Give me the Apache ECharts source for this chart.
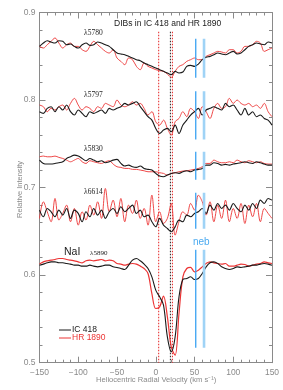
<!DOCTYPE html>
<html><head><meta charset="utf-8">
<script src="https://cdn.jsdelivr.net/npm/echarts@6/dist/echarts.min.js"></script>
<style>html,body{margin:0;padding:0;background:#fff}#c{width:283px;height:390px}</style>
</head><body><div id="c"></div>
<script>
const velocity = [-150,-145,-140,-135,-130,-125,-120,-115,-110,-105,-100,-95,-90,-85,-80,-75,-70,-65,-60,-55,-50,-45,-40,-35,-30,-25,-20,-15,-10,-5,0,5,10,15,20,25,30,35,40,45,50,55,60,65,70,75,80,85,90,95,100,105,110,115,120,125,130,135,140,145,150];
const ic418_5780 = [.8613,.8651,.8678,.8663,.8651,.8678,.8671,.8632,.864,.8613,.8594,.8632,.8651,.8625,.8632,.8663,.8651,.8632,.8613,.8575,.8537,.8526,.8518,.8499,.848,.8461,.8449,.8423,.8404,.8385,.8366,.8347,.8328,.8309,.829,.8328,.8309,.832,.8385,.8396,.8385,.8411,.8461,.8488,.8499,.8518,.8537,.8526,.8518,.8537,.8556,.8526,.8537,.8575,.8613,.8632,.8651,.864,.8632,.8663,.8651];
const hr1890_5780 = [.8613,.8594,.8632,.8671,.8709,.8651,.8594,.8632,.8651,.8613,.8613,.8575,.8556,.8613,.8671,.8632,.8594,.8556,.8537,.8575,.848,.8442,.8404,.848,.8461,.8385,.8347,.8423,.8385,.8366,.8347,.8335,.8328,.8297,.8259,.8328,.8385,.8404,.8442,.8461,.848,.8461,.8461,.8499,.8518,.8537,.8556,.8549,.8537,.8575,.8575,.8537,.8556,.8613,.8613,.8632,.8671,.8651,.8556,.8575,.8594];
const ic418_5797 = [.7867,.7848,.7905,.7924,.7867,.7924,.7886,.7943,.7867,.7829,.7886,.7848,.781,.7867,.7848,.7867,.7886,.7848,.7905,.7886,.7905,.7924,.7962,.7943,.7962,.7981,.7924,.7867,.781,.7771,.7676,.7619,.7657,.7676,.7638,.7714,.7619,.7714,.7771,.7829,.7867,.7905,.7829,.7886,.7905,.7924,.7905,.7886,.7962,.7924,.7943,.7886,.7829,.7905,.7829,.7867,.781,.7829,.779,.7771,.7714];
const hr1890_5797 = [.7943,.7924,.7867,.7905,.7886,.7924,.7943,.7886,.7962,.8019,.7943,.7886,.7924,.7905,.7867,.7924,.7905,.7962,.7943,.7924,.8,.7943,.7924,.7943,.7981,.7943,.7962,.7905,.7829,.7867,.7752,.7714,.7771,.7676,.76,.7752,.779,.7867,.781,.7905,.7867,.779,.7924,.7867,.779,.7905,.7962,.7905,.7924,.8019,.7962,.8,.7962,.7943,.7962,.7924,.7943,.7905,.7962,.7867,.781];
const ic418_5850 = [.7314,.7276,.7269,.7269,.7276,.7284,.7295,.7333,.7352,.7371,.736,.7333,.7307,.7333,.7314,.7295,.7307,.7284,.7295,.7314,.7322,.7276,.7246,.7257,.7238,.7231,.7246,.7219,.7208,.72,.7162,.7132,.7124,.7143,.7162,.717,.7162,.7181,.7192,.7181,.72,.7208,.7219,.7257,.7257,.7284,.7276,.7257,.7265,.7257,.7269,.7276,.7284,.7295,.7284,.7276,.7295,.7284,.7269,.7257,.7257];
const hr1890_5850 = [.7352,.736,.7352,.7352,.736,.7345,.7333,.7314,.7295,.7314,.7333,.7295,.7276,.7307,.7295,.7284,.7276,.7295,.7307,.7269,.7238,.7231,.7219,.7219,.7208,.7208,.72,.7192,.7181,.7181,.7181,.717,.7162,.7143,.7162,.717,.7181,.7189,.7192,.72,.7208,.7219,.7238,.7276,.7276,.7314,.7295,.7284,.7284,.7295,.7284,.7314,.7295,.7284,.7307,.7295,.7284,.7295,.7276,.7269,.7269];
const ic418_6614 = [.6743,.6667,.6762,.6724,.6667,.6743,.6686,.6762,.6648,.6743,.6705,.661,.6724,.6667,.6762,.6686,.6743,.6648,.6724,.6762,.6705,.6781,.6724,.6762,.68,.6705,.6743,.6667,.6686,.661,.6552,.6648,.6571,.6533,.6495,.6552,.6629,.661,.6686,.6667,.6705,.6724,.6762,.6705,.68,.6743,.6819,.6762,.68,.6743,.6819,.6762,.6724,.68,.6743,.6819,.6762,.6857,.6819,.6876,.6857];
const hr1890_6614 = [.6648,.6838,.6724,.661,.6876,.6629,.6705,.68,.661,.6762,.6571,.6724,.6629,.68,.6686,.6838,.6648,.699,.6724,.6857,.6667,.6876,.661,.68,.6705,.6857,.6648,.6762,.6571,.6914,.661,.6724,.659,.6648,.6819,.6457,.661,.6724,.6686,.6819,.6743,.6914,.6838,.6686,.6838,.661,.68,.6648,.6857,.661,.6762,.6648,.6819,.659,.68,.6667,.6819,.661,.6762,.6705,.6648];
const ic418_5890 = [.6114,.6126,.6141,.6152,.6152,.6141,.6141,.6133,.6126,.6114,.6114,.6103,.6103,.6114,.6103,.6095,.6103,.6114,.6114,.6095,.6088,.6076,.6065,.6114,.6171,.619,.6164,.6126,.6076,.5981,.5829,.5752,.5657,.5295,.5124,.5295,.5752,.595,.5962,.5981,.595,.5962,.6019,.6095,.6141,.6152,.6133,.6095,.6076,.6065,.6076,.6095,.6088,.6095,.6103,.6114,.6114,.6126,.6133,.6126,.6114];
const hr1890_5890 = [.6126,.6152,.6164,.6171,.6179,.619,.619,.6179,.6171,.6164,.6152,.6141,.6164,.6171,.6164,.6171,.6179,.6164,.6171,.6164,.6133,.6126,.6114,.6126,.6133,.6126,.6103,.6076,.6019,.579,.5619,.5638,.576,.5524,.5181,.5086,.5562,.5981,.6076,.6088,.6038,.6057,.6095,.6133,.6152,.6141,.6133,.6126,.6133,.6103,.6103,.6114,.6126,.6122,.6103,.6114,.6126,.6133,.6152,.6141,.6133];
const nebVelocity = [51.6, 62.3];
const nebSpans = [[0.870,0.8255],[0.810,0.755],[0.741,0.709],[0.694,0.653],[0.629,0.517]];
const redDottedVelocity = [3.8, 21.5];
const blackDottedVelocity = [18.9];
const dottedSpan = [0.878, 0.5];
const xTicks = [-150,-100,-50,0,50,100,150];
const yTicks = [0.5,0.6,0.7,0.8,0.9];

const pair = arr => velocity.map((v,i)=>[v,arr[i]]);
const series = [];
const blackSets = [ic418_5780, ic418_5797, ic418_5850, ic418_6614, ic418_5890];
const redSets = [hr1890_5780, hr1890_5797, hr1890_5850, hr1890_6614, hr1890_5890];
function vline(x, span, color, width, type, z){
  series.push({type:'line', data:[[x,span[0]],[x,span[1]]], symbol:'none', silent:true, z:z,
    color:color, itemStyle:{color:color}, lineStyle:{color:color, width:width, type:type, opacity:1}});
}
redDottedVelocity.forEach(v=>vline(v, dottedSpan, '#e52222', 1, [1.5,1.5], 2));
blackDottedVelocity.forEach(v=>vline(v, dottedSpan, '#222', 1, [1.5,1.5], 2));
redSets.forEach((d,i)=>series.push({type:'line', data:pair(d), symbol:'none', smooth:0.35, z:4,
  color:'#ec3434', lineStyle:{color:'#ec3434', width:i===4?1.2:0.9}}));
blackSets.forEach((d,i)=>series.push({type:'line', data:pair(d), symbol:'none', smooth:0.35, z:5,
  color:'#1a1a1a', lineStyle:{color:'#1a1a1a', width:1.1}}));
nebSpans.forEach(s=>{ vline(nebVelocity[1], s, '#9fd3f6', 2.6, 'solid', 6); vline(nebVelocity[0], s, '#3aa2f2', 1.3, 'solid', 7); });

const gray = '#8a8a8a';
const axX = (pos, show) => ({type:'value', min:-150, max:150, interval:50, position:pos,
  axisLine:{show:true, onZero:false, lineStyle:{color:gray, width:1}},
  axisTick:{show:true, inside:true, length:6, lineStyle:{color:gray}},
  minorTick:{show:true, splitNumber:5, length:3, lineStyle:{color:gray}},
  splitLine:{show:false},
  axisLabel:{show:show, color:gray, fontSize:8.5, fontFamily:'Liberation Sans', margin:5,
    formatter: v => xTicks.includes(v) ? String(v).replace('-','\u2212') : ''}});
const axY = (pos, show) => ({type:'value', min:0.5, max:0.9, interval:0.1, position:pos,
  axisLine:{show:true, onZero:false, lineStyle:{color:gray, width:1}},
  axisTick:{show:true, inside:true, length:6, lineStyle:{color:gray}},
  minorTick:{show:true, splitNumber:5, length:3, lineStyle:{color:gray}},
  splitLine:{show:false},
  axisLabel:{show:show, color:gray, fontSize:8.5, fontFamily:'Liberation Sans', margin:4,
    formatter: v => yTicks.some(t=>Math.abs(t-v)<1e-6) ? v.toFixed(1) : ''}});

const txt = (x,y,t,font,fill,extra) => Object.assign({type:'text', left:x, top:y,
  style:{text:t, font:font, fill:fill}}, extra||{});
const chart = echarts.init(document.getElementById('c'), null, {renderer:'canvas'});
chart.setOption({
  animation:false,
  grid:{left:39.5, right:11, top:12.5, bottom:27.3, containLabel:false},
  xAxis:[axX('bottom', true), axX('top', false)],
  yAxis:[axY('left', true), axY('right', false)],
  series: series,
  graphic:[
    txt(114, 19, 'DIBs in IC 418 and HR 1890', '8.5px "Liberation Sans"', '#222'),
    txt(84, 29, 'λ5780', '7.5px "Liberation Serif"', '#222'),
    txt(84, 91, 'λ5797', '7.5px "Liberation Serif"', '#222'),
    txt(84, 145, 'λ5830', '7.5px "Liberation Serif"', '#222'),
    txt(84, 188, 'λ6614', '7.5px "Liberation Serif"', '#222'),
    txt(64, 247, 'NaI', '10.5px "Liberation Sans"', '#222'),
    txt(90, 250, 'λ5890', '7px "Liberation Serif"', '#222'),
    txt(193, 237, 'neb', '10px "Liberation Sans"', '#4aaaf0'),
    {type:'line', shape:{x1:59, y1:330, x2:71, y2:330}, style:{stroke:'#1a1a1a', lineWidth:1}},
    {type:'line', shape:{x1:59, y1:338, x2:71, y2:338}, style:{stroke:'#ec3434', lineWidth:1}},
    txt(72, 325, 'IC 418', '8.5px "Liberation Sans"', '#222'),
    txt(72, 333, 'HR 1890', '8.5px "Liberation Sans"', '#ec3434'),
    txt(96, 376, 'Heliocentric Radial Velocity (km s\u207B\u00B9)', '7.6px "Liberation Sans"', gray),
    {type:'text', x:16, y:218, rotation:Math.PI/2, style:{text:'Relative Intensity', font:'7.5px "Liberation Sans"', fill:gray}}
  ]
});
</script></body></html>
